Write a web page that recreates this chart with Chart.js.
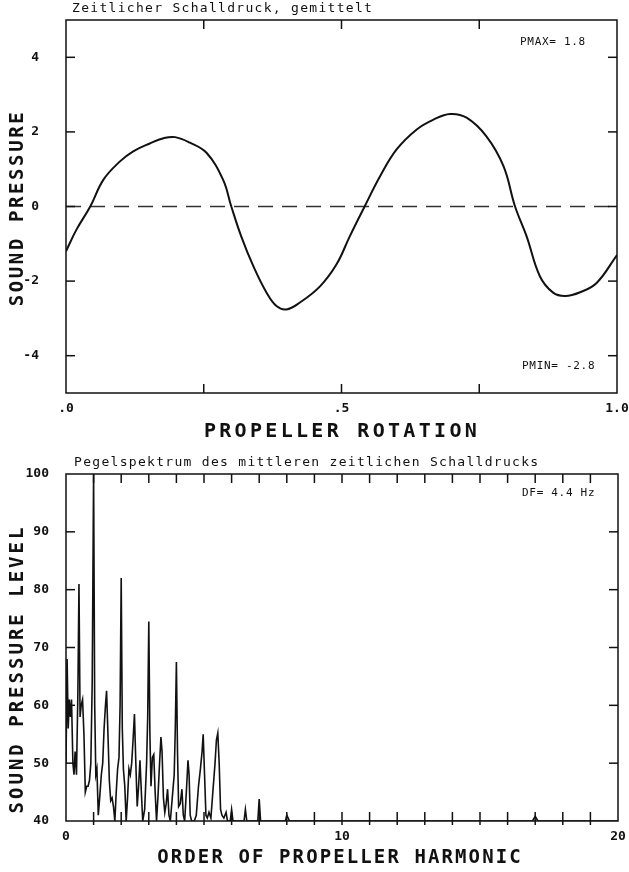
<!DOCTYPE html>
<html>
<head>
<meta charset="utf-8">
<script src="https://cdn.jsdelivr.net/npm/chart.js@4"></script>
<style>
  body { margin: 0; background: #fff; }
  canvas { position: absolute; left: 0; }
  #pressureChart { top: 0; }
  #spectrumChart { top: 445px; }
</style>
</head>
<body>
<canvas id="pressureChart" width="629" height="445"></canvas>
<canvas id="spectrumChart" width="629" height="427"></canvas>
<script>
// top plot: averaged sound pressure over one propeller rotation
const rotation = [0.000, 0.019, 0.044, 0.068, 0.098, 0.122, 0.152, 0.177, 0.198, 0.225,
  0.255, 0.285, 0.300, 0.318, 0.340, 0.364, 0.382, 0.400, 0.424, 0.461, 0.491, 0.515,
  0.542, 0.570, 0.600, 0.636, 0.667, 0.697, 0.727, 0.763, 0.794, 0.815, 0.836, 0.860,
  0.884, 0.906, 0.933, 0.963, 1.000];
const pressure = [-1.20, -0.62, 0.00, 0.72, 1.21, 1.48, 1.69, 1.83, 1.86, 1.71,
  1.44, 0.72, 0.00, -0.80, -1.60, -2.31, -2.67, -2.76, -2.58, -2.14, -1.55, -0.80,
  0.00, 0.81, 1.53, 2.06, 2.33, 2.48, 2.38, 1.88, 1.08, 0.00, -0.80, -1.87,
  -2.31, -2.40, -2.30, -2.05, -1.30];
const rotationTicks = [0, 0.25, 0.5, 0.75, 1];
const rotationTickLabels = { 0: ".0", 0.5: ".5", 1: "1.0" };
const pressureTicks = [-4, -2, 0, 2, 4];

// bottom plot: level spectrum
const order = [0.00, 0.04, 0.08, 0.12, 0.16, 0.20, 0.25, 0.29, 0.33, 0.38, 0.43, 0.47,
  0.51, 0.55, 0.60, 0.65, 0.70, 0.75, 0.80, 0.85, 0.90, 0.95, 1.00, 1.04, 1.08, 1.12,
  1.17, 1.22, 1.28, 1.33, 1.38, 1.43, 1.47, 1.52, 1.57, 1.62, 1.67, 1.72, 1.77, 1.82,
  1.87, 1.92, 1.96, 2.00, 2.04, 2.08, 2.13, 2.18, 2.23, 2.28, 2.33, 2.38, 2.43, 2.48,
  2.53, 2.58, 2.63, 2.68, 2.73, 2.78, 2.85, 2.92, 2.96, 3.00, 3.04, 3.08, 3.13, 3.18,
  3.23, 3.28, 3.33, 3.39, 3.44, 3.48, 3.53, 3.58, 3.63, 3.68, 3.73, 3.78, 3.85, 3.92,
  3.96, 4.00, 4.04, 4.08, 4.14, 4.20, 4.25, 4.30, 4.36, 4.42, 4.46, 4.50, 4.55, 4.65,
  4.72, 4.80, 4.87, 4.93, 4.97, 5.02, 5.07, 5.12, 5.18, 5.25, 5.32, 5.40, 5.45, 5.50,
  5.55, 5.60, 5.65, 5.72, 5.80, 5.85, 5.95, 6.00, 6.05, 6.45, 6.50, 6.55, 6.95, 7.00,
  7.05, 7.95, 8.00, 8.10, 16.9, 17.0, 17.1, 20.0];
const level = [50, 68, 56, 61, 58, 61, 50, 48, 52, 48, 62, 81,
  58, 60, 61, 55, 45, 46, 46, 47, 50, 64, 100, 60, 48, 49,
  41, 44, 48, 50, 56, 60, 62.5, 55, 47, 43.5, 44, 42.5, 40, 45,
  49, 51, 60, 82, 56, 49, 46, 40, 44, 49, 48, 50, 54, 58.5,
  50, 42.5, 46, 50.5, 45, 40, 42, 50, 58, 74.5, 55, 46, 51, 51.5,
  45, 40, 44, 50, 54.5, 52, 44, 41.5, 43, 45.5, 41, 40, 44, 48,
  56, 67.5, 52, 42.5, 43, 45.5, 41, 40, 45, 50.5, 48, 41, 40, 40,
  41, 46, 49, 52, 55, 48, 41, 40.5, 41.5, 40.5, 45, 50, 54, 55.2,
  50, 42, 41, 40.5, 41.5, 40, 40, 42, 40, 40, 42, 40, 40, 43.8,
  40, 40, 41, 40, 40, 40.8, 40, 40];
const orderTickLabels = { 0: "0", 10: "10", 20: "20" };
const levelTicks = [40, 50, 60, 70, 80, 90, 100];

const INK = "#111";
const MONO = "'DejaVu Sans Mono', 'Liberation Mono', monospace";

// frame plus inward tick marks on all four sides
const frameTicks = {
  id: "frameTicks",
  afterDraw(chart, args, opts) {
    const { ctx, chartArea: a, scales: { x, y } } = chart;
    ctx.save();
    ctx.strokeStyle = INK;
    ctx.lineWidth = 1.5;
    ctx.strokeRect(a.left, a.top, a.width, a.height);
    const seg = (x1, y1, x2, y2) => {
      ctx.beginPath(); ctx.moveTo(x1, y1); ctx.lineTo(x2, y2); ctx.stroke();
    };
    x.ticks.forEach(t => {
      if (t.value <= x.min || t.value >= x.max) return;
      const px = x.getPixelForValue(t.value);
      seg(px, a.bottom + opts.below, px, a.bottom - opts.len);
      seg(px, a.top, px, a.top + opts.len);
    });
    y.ticks.forEach(t => {
      if (t.value <= y.min || t.value >= y.max) return;
      const py = y.getPixelForValue(t.value);
      seg(a.left, py, a.left + opts.len, py);
      seg(a.right, py, a.right - opts.len, py);
    });
    ctx.restore();
  }
};

// free text written on the sheet (titles, notes, axis names)
const paperText = {
  id: "paperText",
  afterDraw(chart, args, opts) {
    const ctx = chart.ctx;
    opts.items.forEach(it => {
      ctx.save();
      ctx.fillStyle = INK;
      ctx.font = it.font;
      ctx.letterSpacing = (it.spacing || 0) + "px";
      ctx.textAlign = it.align || "left";
      ctx.textBaseline = "middle";
      ctx.translate(it.x, it.y);
      if (it.rotate) ctx.rotate(-Math.PI / 2);
      ctx.fillText(it.text, 0, 0);
      ctx.restore();
    });
  }
};

function tickFont() {
  return { family: MONO, size: 13, weight: "bold" };
}

// fixed axis boxes so the plot frame lands where the sheet has it
function fixY(width) {
  return s => { s.width = width; s.paddingTop = 0; s.paddingBottom = 0; };
}
function fixX(height) {
  return s => { s.height = height; s.paddingLeft = 0; s.paddingRight = 0; };
}

document.addEventListener("DOMContentLoaded", () => {

  new Chart(document.getElementById("pressureChart"), {
    type: "line",
    data: {
      datasets: [
        {
          data: rotation.map((r, i) => ({ x: r, y: pressure[i] })),
          borderColor: INK,
          borderWidth: 2,
          pointRadius: 0,
          tension: 0.4
        },
        {
          data: [{ x: 0, y: 0 }, { x: 1, y: 0 }],
          borderColor: "#333",
          borderWidth: 1.5,
          borderDash: [15, 9],
          pointRadius: 0
        }
      ]
    },
    options: {
      responsive: false,
      animation: false,
      layout: { padding: { top: 20, right: 12, left: 0, bottom: 0 } },
      plugins: {
        legend: { display: false },
        tooltip: { enabled: false },
        frameTicks: { len: 9, below: 0 },
        paperText: {
          items: [
            { text: "Zeitlicher Schalldruck, gemittelt", x: 72, y: 9, font: `13px ${MONO}`, spacing: 1.3 },
            { text: "PMAX= 1.8", x: 520, y: 42, font: `11px ${MONO}`, spacing: 0.7 },
            { text: "PMIN= -2.8", x: 522, y: 366, font: `11px ${MONO}`, spacing: 0.7 },
            { text: "PROPELLER ROTATION", x: 342, y: 432, font: `bold 20px ${MONO}`, spacing: 3.3, align: "center" },
            { text: "SOUND PRESSURE", x: 18, y: 208, font: `bold 19px ${MONO}`, spacing: 2.6, align: "center", rotate: true }
          ]
        }
      },
      scales: {
        x: {
          type: "linear",
          min: 0,
          max: 1,
          afterBuildTicks: s => { s.ticks = rotationTicks.map(v => ({ value: v })); },
          afterFit: fixX(52),
          grid: { display: false },
          border: { display: false },
          ticks: {
            autoSkip: false,
            maxRotation: 0,
            padding: 0,
            color: INK,
            font: tickFont(),
            callback: v => rotationTickLabels[v] || ""
          }
        },
        y: {
          min: -5,
          max: 5,
          afterBuildTicks: s => { s.ticks = pressureTicks.map(v => ({ value: v })); },
          afterFit: fixY(66),
          grid: { display: false },
          border: { display: false },
          ticks: { padding: 19, color: INK, font: tickFont() }
        }
      }
    },
    plugins: [frameTicks, paperText]
  });

  new Chart(document.getElementById("spectrumChart"), {
    type: "line",
    data: {
      datasets: [{
        data: order.map((o, i) => ({ x: o, y: level[i] })),
        borderColor: INK,
        borderWidth: 1.6,
        pointRadius: 0,
        tension: 0
      }]
    },
    options: {
      responsive: false,
      animation: false,
      layout: { padding: { top: 29, right: 11, left: 0, bottom: 0 } },
      plugins: {
        legend: { display: false },
        tooltip: { enabled: false },
        frameTicks: { len: 9, below: 4 },
        paperText: {
          items: [
            { text: "Pegelspektrum des mittleren zeitlichen Schalldrucks", x: 74, y: 18, font: `13px ${MONO}`, spacing: 1.3 },
            { text: "DF= 4.4 Hz", x: 522, y: 48, font: `11px ${MONO}`, spacing: 0.7 },
            { text: "ORDER OF PROPELLER HARMONIC", x: 340, y: 413, font: `bold 19px ${MONO}`, spacing: 2.1, align: "center" },
            { text: "SOUND PRESSURE LEVEL", x: 18, y: 224, font: `bold 19px ${MONO}`, spacing: 3, align: "center", rotate: true }
          ]
        }
      },
      scales: {
        x: {
          type: "linear",
          min: 0,
          max: 20,
          afterFit: fixX(51),
          grid: { display: false },
          border: { display: false },
          ticks: {
            stepSize: 1,
            autoSkip: false,
            maxRotation: 0,
            padding: 0,
            color: INK,
            font: tickFont(),
            callback: v => orderTickLabels[v] || ""
          }
        },
        y: {
          min: 40,
          max: 100,
          afterBuildTicks: s => { s.ticks = levelTicks.map(v => ({ value: v })); },
          afterFit: fixY(66),
          grid: { display: false },
          border: { display: false },
          ticks: { padding: 9, color: INK, font: tickFont() }
        }
      }
    },
    plugins: [frameTicks, paperText]
  });

});
</script>
</body>
</html>
